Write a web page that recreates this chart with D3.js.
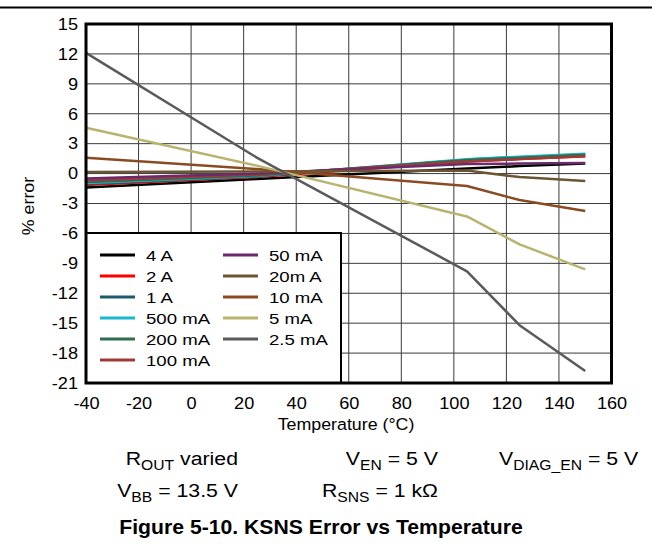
<!DOCTYPE html>
<html>
<head>
<meta charset="utf-8">
<script src="https://cdn.jsdelivr.net/npm/d3@7"></script>
<style>
  body { margin: 0; background: #fff; }
  svg text { font-family: "Liberation Sans", Arial, sans-serif; fill: #000; }
</style>
</head>
<body>
<svg id="chart" width="652" height="546"></svg>
<script>
// temperatures where each current was measured
var temps = [-40, 25, 105, 125, 150];

// % error per load current
var err4A    = [-1.4, -0.55, 0.5, 0.75, 1.0];
var err2A    = [-1.15, -0.35, 1.2, 1.45, 1.75];
var err1A    = [-1.05, -0.3, 1.4, 1.65, 1.95];
var err500mA = [-0.95, -0.25, 1.45, 1.7, 2.0];
var err200mA = [-0.85, -0.2, 1.35, 1.6, 1.9];
var err100mA = [-0.7, -0.1, 1.2, 1.45, 1.75];
var err50mA  = [-0.5, 0.0, 0.95, 1.0, 1.05];
var err20mA  = [0.15, 0.2, 0.3, -0.35, -0.75];
var err10mA  = [1.6, 0.45, -1.25, -2.65, -3.75];
var err5mA   = [4.6, 0.8, -4.3, -7.1, -9.6];
var err25mA  = [12.1, 1.6, -9.8, -15.2, -19.8];

var seriesNames = ["4 A", "2 A", "1 A", "500 mA", "200 mA", "100 mA",
                   "50 mA", "20m A", "10 mA", "5 mA", "2.5 mA"];
var seriesValues = [err4A, err2A, err1A, err500mA, err200mA, err100mA,
                    err50mA, err20mA, err10mA, err5mA, err25mA];
var seriesColors = ["#000000", "#ff0000", "#1d5a6b", "#19b8d0", "#2e6e4e", "#a03a3a",
                    "#6b2a6b", "#6b5532", "#8b4b22", "#b8b46e", "#5a5a5a"];

var xTicks = d3.range(-40, 161, 20);
var yTicks = d3.range(-21, 16, 3);

var svg = d3.select("#chart");

var plotL = 86, plotT = 24, plotR = 611.5, plotB = 383;

var x = d3.scaleLinear().domain([-40, 160]).range([plotL, plotR]);
var y = d3.scaleLinear().domain([-21, 15]).range([plotB, plotT]);

// header rule
svg.append("line")
    .attr("x1", 0).attr("x2", 652)
    .attr("y1", 7.5).attr("y2", 7.5)
    .attr("stroke", "#000")
    .attr("stroke-width", 2);

// grid
var grid = svg.append("g");
grid.selectAll(".vg")
    .data(xTicks.slice(1, -1))
    .enter().append("line")
    .attr("x1", function (d) { return x(d); })
    .attr("x2", function (d) { return x(d); })
    .attr("y1", plotT).attr("y2", plotB)
    .attr("stroke", "#3a3a3a")
    .attr("stroke-width", 1);
grid.selectAll(".hg")
    .data(yTicks.slice(1, -1))
    .enter().append("line")
    .attr("x1", plotL).attr("x2", plotR)
    .attr("y1", function (d) { return y(d); })
    .attr("y2", function (d) { return y(d); })
    .attr("stroke", "#3a3a3a")
    .attr("stroke-width", 1);

// data lines
var line = d3.line()
    .x(function (d, i) { return x(temps[i]); })
    .y(function (d) { return y(d); });

svg.append("g").selectAll("path")
    .data(seriesValues)
    .enter().append("path")
    .attr("d", function (d) { return line(d); })
    .attr("fill", "none")
    .attr("stroke", function (d, i) { return seriesColors[i]; })
    .attr("stroke-width", 2.5)
    .attr("stroke-linejoin", "round");

// legend box
var legY = 233;
svg.append("rect")
    .attr("x", plotL).attr("y", legY)
    .attr("width", 255).attr("height", plotB - legY)
    .attr("fill", "#fff")
    .attr("stroke", "#000")
    .attr("stroke-width", 2);

var legend = svg.append("g");
seriesNames.forEach(function (name, i) {
    var col = i < 6 ? 0 : 1;
    var row = i < 6 ? i : i - 6;
    var lx = col === 0 ? 100 : 223;
    var ly = 255 + row * 21;
    legend.append("line")
        .attr("x1", lx).attr("x2", lx + 35)
        .attr("y1", ly).attr("y2", ly)
        .attr("stroke", seriesColors[i])
        .attr("stroke-width", 3);
    legend.append("text")
        .attr("transform", "translate(" + (lx + 46) + "," + (ly + 6) + ") scale(1.2,1)")
        .attr("font-size", "15.5px")
        .text(name);
});

// plot frame
svg.append("rect")
    .attr("x", plotL).attr("y", plotT)
    .attr("width", plotR - plotL).attr("height", plotB - plotT)
    .attr("fill", "none")
    .attr("stroke", "#000")
    .attr("stroke-width", 3);

// axes (labels only)
var xAxis = svg.append("g")
    .attr("transform", "translate(0," + plotB + ")")
    .call(d3.axisBottom(x).tickValues(xTicks).tickSize(0).tickPadding(14)
        .tickFormat(function (d) { return d; }));
var yAxis = svg.append("g")
    .attr("transform", "translate(" + plotL + ",0)")
    .call(d3.axisLeft(y).tickValues(yTicks).tickSize(0).tickPadding(8)
        .tickFormat(function (d) { return d; }));
xAxis.select(".domain").remove();
yAxis.select(".domain").remove();
svg.selectAll(".tick text")
    .attr("font-size", "16.5px")
    .attr("font-family", "Liberation Sans, Arial, sans-serif")
    .attr("fill", "#000")
    .attr("transform", "scale(1.1,1)");
yAxis.selectAll(".tick text").attr("x", -8 / 1.1);

// axis titles
svg.append("text")
    .attr("transform", "translate(346,430) scale(1.08,1)")
    .attr("text-anchor", "middle")
    .attr("font-size", "16.5px")
    .text("Temperature (\u00B0C)");
svg.append("text")
    .attr("transform", "translate(34,206) rotate(-90) scale(1.08,1)")
    .attr("text-anchor", "middle")
    .attr("font-size", "16.5px")
    .text("% error");

// test conditions
function note(px, py, anchor, parts) {
    var t = svg.append("text")
        .attr("transform", "translate(" + px + "," + py + ") scale(1.12,1)")
        .attr("text-anchor", anchor)
        .attr("font-size", "19px");
    var shift = 0;
    parts.forEach(function (p) {
        var sub = p[1];
        var dy = sub ? 5 - shift : -shift;
        shift = sub ? 5 : 0;
        t.append("tspan")
            .attr("dy", dy)
            .attr("font-size", sub ? "14px" : "19px")
            .text(p[0]);
    });
}
note(238, 465, "end", [["R", 0], ["OUT", 1], [" varied", 0]]);
note(438, 465, "end", [["V", 0], ["EN", 1], [" = 5 V", 0]]);
note(499, 465, "start", [["V", 0], ["DIAG_EN", 1], [" = 5 V", 0]]);
note(238, 497, "end", [["V", 0], ["BB", 1], [" = 13.5 V", 0]]);
note(438, 497, "end", [["R", 0], ["SNS", 1], [" = 1 k\u03A9", 0]]);

// caption
svg.append("text")
    .attr("transform", "translate(321,534) scale(1.06,1)")
    .attr("text-anchor", "middle")
    .attr("font-size", "20px")
    .attr("font-weight", "bold")
    .text("Figure 5-10. KSNS Error vs Temperature");
</script>
</body>
</html>
